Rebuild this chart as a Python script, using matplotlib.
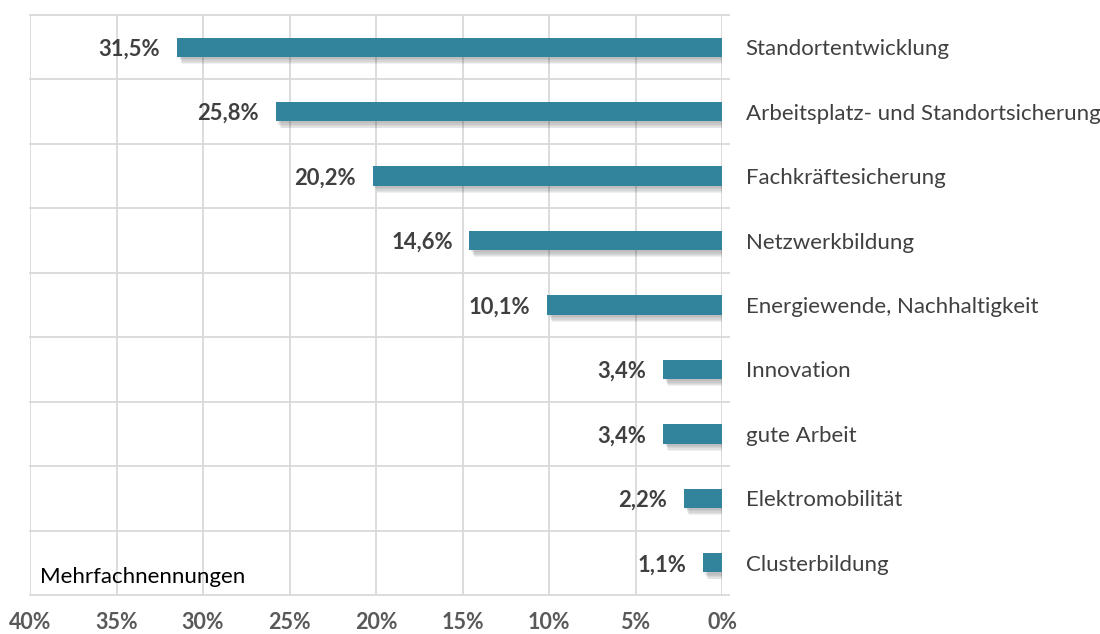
import matplotlib.pyplot as plt
import matplotlib.patheffects as pe
import numpy as np

# data
categories = ['Standortentwicklung', 'Arbeitsplatz- und Standortsicherung',
              'Fachkräftesicherung', 'Netzwerkbildung',
              'Energiewende, Nachhaltigkeit', 'Innovation', 'gute Arbeit',
              'Elektromobilität', 'Clusterbildung']
values = [31.5, 25.8, 20.2, 14.6, 10.1, 3.4, 3.4, 2.2, 1.1]
labels = ['31,5%', '25,8%', '20,2%', '14,6%', '10,1%', '3,4%', '3,4%',
          '2,2%', '1,1%']
xticks = [40, 35, 30, 25, 20, 15, 10, 5, 0]

plt.rcParams['font.family'] = ['Lato', 'DejaVu Sans']

fig = plt.figure(figsize=(11, 6.34), dpi=100)
ax = fig.add_axes([30 / 1100, 39 / 634, 692 / 1100, 580 / 634])

y = np.arange(len(categories))
# soft shadow: a few stacked translucent layers
shadow = [pe.SimplePatchShadow(offset=(dx, dy), shadow_rgbFace='#404040', alpha=0.08)
          for dx, dy in [(1, -1.5), (2, -2.5), (2.5, -3.5), (3, -4.5), (3.5, -5)]]
bars = ax.barh(y, values, height=0.3, color='#31849B', zorder=3)
for b in bars:
    b.set_path_effects(shadow + [pe.Normal()])

for yi, v, lab in zip(y, values, labels):
    ax.annotate(lab, (v, yi), xytext=(-12, 0), textcoords='offset points',
                ha='right', va='center_baseline', fontsize=15.8, fontweight='bold',
                color='#404040')

ax.set_xlim(40, 0)
ax.set_ylim(len(categories) - 0.5, -0.5)
ax.set_xticks(xticks)
ax.set_xticklabels([f'{t}%' for t in xticks], fontsize=15.5,
                   fontweight='bold', color='#595959')
ax.tick_params(axis='x', length=0, pad=12)

ax.yaxis.tick_right()
ax.set_yticks(y)
ax.set_yticklabels(categories, fontsize=16, color='#404040')
ax.tick_params(axis='y', length=0, pad=17)

# grid
for xv in xticks:
    ax.axvline(xv, color='#D9D9D9', lw=1.3, zorder=1)
for yv in np.arange(-0.5, len(categories), 1):
    ax.plot([40, -0.4], [yv, yv], color='#D9D9D9', lw=1.3, zorder=1,
            clip_on=False)
for s in ax.spines.values():
    s.set_visible(False)

ax.text(0.015, 0.031, 'Mehrfachnennungen', transform=ax.transAxes,
        fontsize=16, color='black', ha='left', va='center')

fig.savefig('out.png', dpi=100)
